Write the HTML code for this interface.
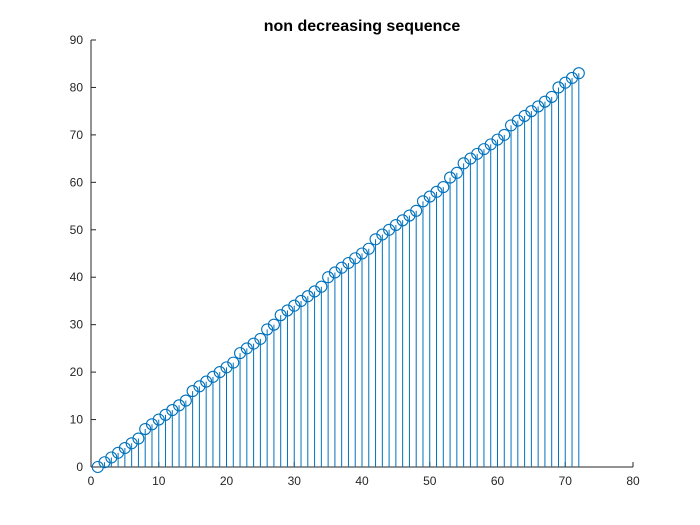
<!DOCTYPE html>
<html><head><meta charset="utf-8"><style>body{margin:0;background:#fff}svg{display:block}</style></head>
<body>
<svg id="chart" width="700" height="525" xmlns="http://www.w3.org/2000/svg" font-family="Liberation Sans, sans-serif">
<rect width="700" height="525" fill="#fff"/>
<text x="362" y="31" text-anchor="middle" font-size="16" font-weight="bold" fill="#000">non decreasing sequence</text>
<g id="axes"></g>
<g id="marks"></g>
</svg>
<script>
const xValues = [];
for (let i = 1; i <= 72; i++) xValues.push(i);
const yValues = [0,1,2,3,4,5,6,8,9,10,11,12,13,14,16,17,18,19,20,21,22,24,25,26,27,29,30,32,33,34,35,36,37,38,40,41,42,43,44,45,46,48,49,50,51,52,53,54,56,57,58,59,61,62,64,65,66,67,68,69,70,72,73,74,75,76,77,78,80,81,82,83];
const xTicks = [0,10,20,30,40,50,60,70,80];
const yTicks = [0,10,20,30,40,50,60,70,80,90];
const X0=91,X1=633,Y0=467,Y1=40;
const sx=v=>X0+(v-0)/80*(X1-X0);
const sy=v=>Y0-(v-0)/90*(Y0-Y1);
const NS="http://www.w3.org/2000/svg";
const axes=document.getElementById('axes'), marks=document.getElementById('marks');
function mk(tag,attrs,parent){const e=document.createElementNS(NS,tag);for(const k in attrs)e.setAttribute(k,attrs[k]);parent.appendChild(e);return e;}
const xa=mk('line',{x1:X0,y1:Y0,x2:X1,y2:Y0,stroke:'#262626','stroke-width':1},axes);


const ya=mk('line',{x1:X0,y1:Y0,x2:X0,y2:Y1,stroke:'#262626','stroke-width':1},axes);


xTicks.forEach(t=>{const x=sx(t);
 const l=mk('line',{x1:x,y1:Y0,x2:x,y2:Y0-5,stroke:'#262626'},axes);
 
 
 const tx=mk('text',{x:x,y:Y0+18,'text-anchor':'middle','font-size':12,fill:'#262626'},axes);tx.textContent=t;
 
 
});
yTicks.forEach(t=>{const y=sy(t);
 const l=mk('line',{x1:X0,y1:y,x2:X0+5,y2:y,stroke:'#262626'},axes);
 
 
 const tx=mk('text',{x:X0-8,y:y+4,'text-anchor':'end','font-size':12,fill:'#262626'},axes);tx.textContent=t;
 
 
});
xValues.forEach((xv,i)=>{const x=sx(xv),y=sy(yValues[i]);
 const s=mk('line',{x1:x,y1:Y0,x2:x,y2:y,stroke:'#0072BD','stroke-width':1},marks);
 
 
 const c=mk('circle',{cx:x,cy:y,r:5.5,fill:'none',stroke:'#0072BD','stroke-width':1.1},marks);
 
 
});
</script>
</body></html>
